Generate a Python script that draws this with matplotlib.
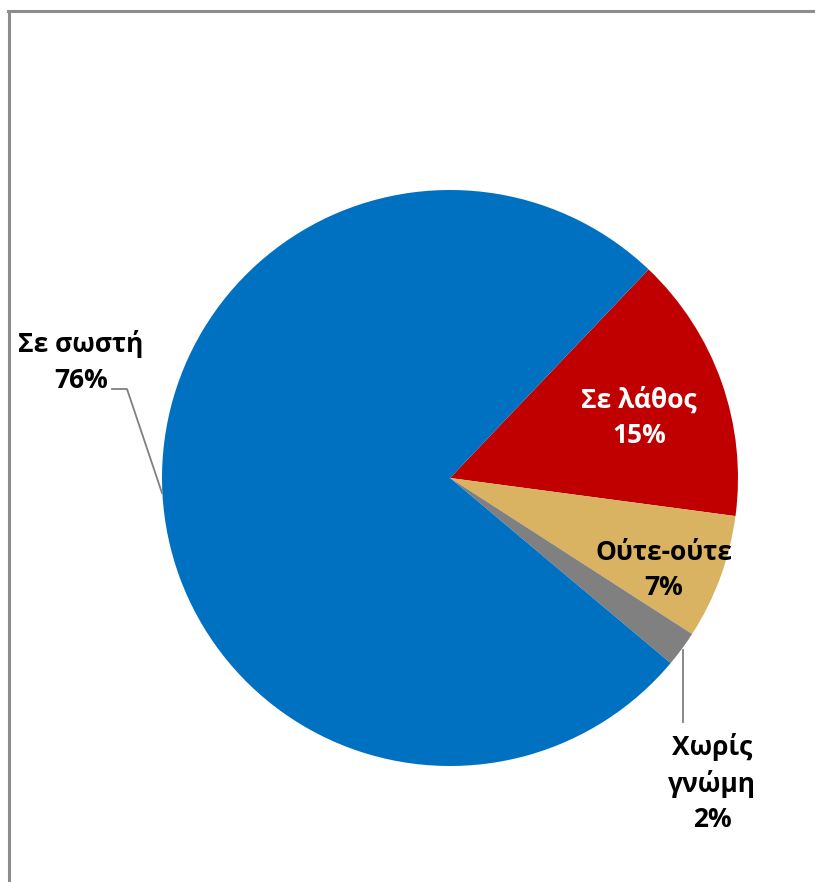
import matplotlib
matplotlib.use("Agg")
import matplotlib.pyplot as plt
from matplotlib.lines import Line2D

# slices, clockwise starting at the top-right edge of the red slice
labels = ["Σε λάθος", "Ούτε-ούτε", "Χωρίς\nγνώμη", "Σε σωστή"]
values = [15, 7, 2, 76]
colors = ["#C00000", "#D9B262", "#808080", "#0070C0"]
text_colors = ["white", "black", "black", "black"]

W, H = 815, 882
plt.rcParams["font.family"] = ["Open Sans", "DejaVu Sans"]

fig = plt.figure(figsize=(W / 100, H / 100), dpi=100)
ax = fig.add_axes([0, 0, 1, 1])

cx, cy, r = 450, H - 478, 288
ax.pie(values, colors=colors, startangle=46.4, counterclock=False,
       center=(cx, cy), radius=r, frame=True,
       wedgeprops=dict(linewidth=0))
ax.set_xlim(0, W)
ax.set_ylim(0, H)
ax.set_aspect("equal")
ax.axis("off")

# label positions in pixels (x, y from top)
label_pos = [(639, 418), (664, 570), (712, 783), (81, 362)]
for lab, v, c, (x, y) in zip(labels, values, text_colors, label_pos):
    ax.text(x, H - y, f"{lab}\n{v}%", ha="center", va="center", color=c,
            fontsize=19, fontweight="bold", linespacing=1.4)

# leader lines
ax.plot([112, 127, 162], [H - 389, H - 389, H - 493], color="#808080", lw=1.3)
ax.plot([683, 683], [H - 650, H - 722], color="#808080", lw=1.3)

# outer frame (only left and top visible)
fig.add_artist(Line2D([9 / W, 9 / W], [0, 1 - 11 / H], color="#8c8c8c", lw=2.2))
fig.add_artist(Line2D([8 / W, 1], [1 - 11 / H, 1 - 11 / H], color="#8c8c8c", lw=2.2))

fig.savefig("out.png", dpi=100)
